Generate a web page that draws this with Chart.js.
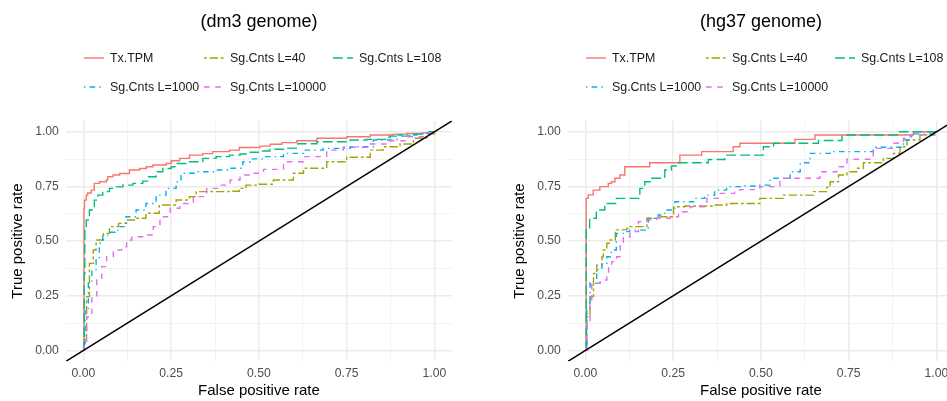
<!DOCTYPE html>
<html>
<head>
<meta charset="utf-8">
<script src="https://cdn.jsdelivr.net/npm/chart.js@4.4.1/dist/chart.umd.min.js"></script>
<style>
  html, body { margin:0; padding:0; width:947px; height:401px; overflow:hidden; background:#fff; }
  body { position:relative; font-family:"Liberation Sans", Arial, sans-serif; }
  canvas { position:absolute; top:0; }
  .ttl { position:absolute; width:400px; text-align:center; font-size:18px; line-height:22px; color:#000; }
  .item { position:absolute; height:20px; display:flex; align-items:center; font-size:12.4px; color:#1a1a1a; white-space:nowrap; }
  .item svg { margin-right:6px; }
</style>
</head>
<body>
<canvas id="c1" width="480" height="401" style="left:0px"></canvas>
<canvas id="c2" width="480" height="401" style="left:502px"></canvas>
<script>
// ---------------- data ----------------
const panelTitles = ["(dm3 genome)", "(hg37 genome)"];
const seriesNames = ["Tx.TPM", "Sg.Cnts L=40", "Sg.Cnts L=108", "Sg.Cnts L=1000", "Sg.Cnts L=10000"];
const tickVals = [0, 0.125, 0.25, 0.375, 0.5, 0.625, 0.75, 0.875, 1];
const tickLabels = ["0.00", "", "0.25", "", "0.50", "", "0.75", "", "1.00"];
const refLine = [-0.05, 1.05];

// dm3
const dm3_tx_fpr = [0,0.0015,0.003,0.008,0.012,0.022,0.031,0.046,0.065,0.069,0.084,0.103,0.131,0.16,0.179,0.198,0.236,0.25,0.274,0.302,0.34,0.368,0.416,0.444,0.503,0.532,0.565,0.608,0.665,0.75,0.817,0.883,0.921,0.968,0.995,1];
const dm3_tx_tpr = [0,0.649,0.687,0.71,0.72,0.733,0.764,0.771,0.779,0.794,0.802,0.809,0.825,0.832,0.84,0.848,0.855,0.867,0.878,0.893,0.9,0.909,0.916,0.928,0.934,0.943,0.95,0.959,0.97,0.977,0.985,0.989,0.992,0.995,1,1];

const dm3_40_fpr = [0,0.002,0.009,0.017,0.028,0.036,0.057,0.074,0.1,0.123,0.15,0.178,0.216,0.264,0.302,0.321,0.378,0.425,0.444,0.463,0.5,0.541,0.598,0.627,0.693,0.75,0.817,0.854,0.902,0.94,0.978,1];
const dm3_40_tpr = [0,0.05,0.246,0.398,0.459,0.505,0.535,0.566,0.581,0.596,0.604,0.627,0.665,0.688,0.703,0.726,0.726,0.728,0.741,0.756,0.76,0.779,0.81,0.833,0.863,0.883,0.916,0.931,0.944,0.97,0.99,1];

const dm3_108_fpr = [0,0.002,0.004,0.008,0.017,0.031,0.041,0.055,0.074,0.088,0.112,0.141,0.169,0.183,0.207,0.226,0.25,0.264,0.292,0.34,0.378,0.416,0.446,0.475,0.503,0.531,0.57,0.611,0.665,0.76,0.807,0.864,0.874,0.93,0.968,0.985,1];
const dm3_108_tpr = [0,0.35,0.565,0.596,0.642,0.687,0.71,0.726,0.741,0.748,0.756,0.764,0.774,0.794,0.817,0.832,0.84,0.855,0.863,0.878,0.886,0.893,0.898,0.906,0.912,0.92,0.925,0.945,0.954,0.962,0.965,0.975,0.98,0.989,0.995,1,1];

const dm3_1000_fpr = [0,0.002,0.0046,0.014,0.024,0.036,0.045,0.055,0.075,0.09,0.102,0.121,0.15,0.178,0.207,0.235,0.264,0.278,0.321,0.378,0.416,0.454,0.475,0.513,0.57,0.627,0.683,0.76,0.826,0.893,0.95,1];
const dm3_1000_tpr = [0,0.03,0.185,0.307,0.368,0.413,0.49,0.527,0.54,0.55,0.566,0.611,0.642,0.672,0.71,0.741,0.771,0.81,0.817,0.825,0.833,0.863,0.876,0.886,0.901,0.916,0.924,0.931,0.962,0.985,0.993,1];

const dm3_10000_fpr = [0,0.002,0.009,0.024,0.038,0.052,0.066,0.085,0.109,0.123,0.138,0.18,0.199,0.218,0.247,0.275,0.313,0.351,0.389,0.418,0.446,0.475,0.513,0.57,0.627,0.693,0.74,0.817,0.874,0.921,0.968,1];
const dm3_10000_tpr = [0,0.02,0.154,0.246,0.322,0.383,0.428,0.459,0.474,0.505,0.52,0.528,0.566,0.611,0.65,0.672,0.703,0.741,0.756,0.779,0.802,0.81,0.828,0.863,0.886,0.916,0.929,0.944,0.959,0.977,0.995,1];

// hg37
const hg37_tx_fpr = [0,0.002,0.008,0.022,0.041,0.065,0.074,0.084,0.098,0.112,0.183,0.269,0.331,0.421,0.44,0.597,0.654,0.934,1];
const hg37_tx_tpr = [0,0.695,0.711,0.733,0.749,0.764,0.771,0.787,0.802,0.84,0.858,0.893,0.909,0.931,0.947,0.965,0.985,1,1];

const hg37_40_fpr = [0,0.004,0.013,0.023,0.032,0.047,0.051,0.061,0.07,0.085,0.118,0.127,0.175,0.213,0.251,0.283,0.365,0.403,0.497,0.564,0.65,0.688,0.697,0.721,0.745,0.773,0.792,0.849,0.878,0.896,0.916,0.953,0.991,1];
const hg37_40_tpr = [0,0.154,0.246,0.352,0.39,0.428,0.459,0.49,0.505,0.551,0.558,0.566,0.604,0.611,0.657,0.66,0.665,0.672,0.695,0.71,0.726,0.746,0.771,0.802,0.817,0.833,0.858,0.878,0.901,0.931,0.962,0.985,1,1];

const hg37_108_fpr = [0,0.002,0.012,0.031,0.055,0.088,0.155,0.169,0.188,0.226,0.245,0.264,0.35,0.397,0.507,0.536,0.664,0.731,0.888,1];
const hg37_108_tpr = [0,0.55,0.604,0.642,0.672,0.695,0.741,0.771,0.787,0.825,0.843,0.858,0.873,0.893,0.931,0.947,0.96,0.985,1,1];

const hg37_1000_fpr = [0,0.002,0.004,0.013,0.032,0.047,0.061,0.074,0.088,0.112,0.126,0.179,0.207,0.226,0.255,0.311,0.34,0.368,0.402,0.454,0.497,0.526,0.583,0.612,0.64,0.697,0.82,0.906,0.925,0.934,1];
const hg37_1000_tpr = [0,0.03,0.185,0.307,0.368,0.398,0.428,0.459,0.535,0.543,0.55,0.604,0.619,0.642,0.68,0.695,0.71,0.733,0.749,0.752,0.756,0.787,0.817,0.858,0.901,0.909,0.929,0.962,0.977,0.99,1];

const hg37_10000_fpr = [0,0.004,0.013,0.018,0.042,0.061,0.066,0.075,0.089,0.099,0.108,0.127,0.151,0.175,0.203,0.241,0.265,0.298,0.346,0.378,0.425,0.441,0.497,0.554,0.668,0.716,0.745,0.82,0.878,0.906,0.925,1];
const hg37_10000_tpr = [0,0.124,0.23,0.307,0.322,0.337,0.383,0.406,0.428,0.49,0.52,0.543,0.589,0.596,0.604,0.611,0.634,0.657,0.695,0.718,0.733,0.735,0.749,0.787,0.817,0.84,0.874,0.924,0.947,0.97,0.985,1];

// ---------------- styles ----------------
const colors = ["#F8766D", "#A3A500", "#00BF7D", "#00B0F6", "#E76BF3"];
const LW = 1.4;
const dashes = [[], [2.8,2.8,8.4,2.8], [9.8,4.2], [1.4,4.2,5.6,4.2], [5.6,5.6]];

const panels = [
  { canvas: "c1", left: 0, fpr: [dm3_tx_fpr, dm3_40_fpr, dm3_108_fpr, dm3_1000_fpr, dm3_10000_fpr],
    tpr: [dm3_tx_tpr, dm3_40_tpr, dm3_108_tpr, dm3_1000_tpr, dm3_10000_tpr] },
  { canvas: "c2", left: 502, fpr: [hg37_tx_fpr, hg37_40_fpr, hg37_108_fpr, hg37_1000_fpr, hg37_10000_fpr],
    tpr: [hg37_tx_tpr, hg37_40_tpr, hg37_108_tpr, hg37_1000_tpr, hg37_10000_tpr] }
];

const isMajor = v => Math.abs(v * 4 - Math.round(v * 4)) < 1e-9;
const FONT = "'Liberation Sans', Arial, sans-serif";

function axis(titleText, isX) {
  return {
    type: 'linear', min: refLine[0], max: refLine[1],
    afterBuildTicks: s => { s.ticks = tickVals.map(v => ({ value: v })); },
    afterFit: s => { if (isX) s.height = 39.7; else s.width = 65.9; },
    ticks: {
      autoSkip: false, maxRotation: 0, padding: isX ? 5 : 7,
      color: '#4D4D4D', font: { family: FONT, size: 12.2 },
      callback: (v) => { const i = tickVals.findIndex(t => Math.abs(t - v) < 1e-9); return i >= 0 ? tickLabels[i] : ''; }
    },
    grid: {
      color: c => (c.tick && isMajor(c.tick.value)) ? '#EBEBEB' : '#F0F0F0', drawTicks: false,
      lineWidth: c => (c.tick && isMajor(c.tick.value)) ? 1.5 : 0.8
    },
    border: { display: false },
    title: {
      display: true, text: titleText, color: '#000',
      font: { family: FONT, size: 15 }, padding: isX ? { top: 0, bottom: 1 } : { top: 9, bottom: 0 }
    }
  };
}

panels.forEach((p, pi) => {
  const datasets = seriesNames.map((name, i) => ({
    label: name,
    data: p.fpr[i].map((x, k) => ({ x: x, y: p.tpr[i][k] })),
    borderColor: colors[i], borderWidth: LW, borderDash: dashes[i],
    pointRadius: 0, fill: false, stepped: 'before', order: 5 - i, tension: 0
  }));
  datasets.push({
    label: 'ref', data: refLine.map(v => ({ x: v, y: v })),
    borderColor: '#000', borderWidth: 1.5, pointRadius: 0, fill: false, order: 0
  });
  new Chart(document.getElementById(p.canvas), {
    type: 'line',
    data: { datasets },
    options: {
      responsive: false, animation: false, devicePixelRatio: 1,
      layout: { padding: { top: 120.8, left: 0, right: 28, bottom: 0 } },
      plugins: { legend: { display: false }, tooltip: { enabled: false } },
      scales: { x: axis('False positive rate', true), y: axis('True positive rate', false) }
    }
  });

  // title
  const center = p.left + (65.9 + 452) / 2;
  const t = document.createElement('div');
  t.className = 'ttl';
  t.textContent = panelTitles[pi];
  t.style.left = (center - 200) + 'px';
  t.style.top = '9.5px';
  document.body.appendChild(t);

  // legend
  const colX = [84, 204, 333];
  const rowY = [58, 86.5];
  seriesNames.forEach((name, i) => {
    const r = Math.floor(i / 3), c = i % 3;
    const d = document.createElement('div');
    d.className = 'item';
    d.style.left = (p.left + colX[c]) + 'px';
    d.style.top = (rowY[r] - 10) + 'px';
    const dash = dashes[i].length ? dashes[i].join(' ') : 'none';
    d.innerHTML = '<svg width="20" height="6"><line x1="0" y1="3" x2="20" y2="3" stroke="' + colors[i] +
      '" stroke-width="' + LW + '" stroke-dasharray="' + dash + '"/></svg>';
    const s = document.createElement('span');
    s.textContent = name;
    d.appendChild(s);
    document.body.appendChild(d);
  });
});
</script>
</body>
</html>
